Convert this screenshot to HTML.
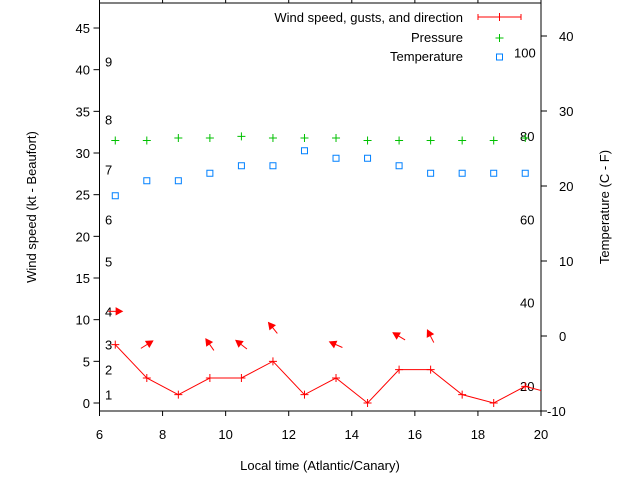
<!DOCTYPE html>
<html><head><meta charset="utf-8"><style>
body{margin:0;background:#fff}
svg{display:block;font-family:"Liberation Sans",sans-serif;font-size:13px}
</style></head><body>
<svg id="c" width="640" height="480">
<g id="plot"></g>
</svg>
<script>
const hours=[6.5,7.5,8.5,9.5,10.5,11.5,12.5,13.5,14.5,15.5,16.5,17.5,18.5,19.5,20.5];
const wind=[7,3,1,3,3,5,1,3,0,4,4,1,0,2,1];
const pressure=[31.5,31.5,31.8,31.8,32,31.8,31.8,31.8,31.5,31.5,31.5,31.5,31.5,31.8];
const temperature=[18.7,20.7,20.7,21.7,22.7,22.7,24.7,23.7,23.7,22.7,21.7,21.7,21.7,21.7];
const gustHours=[6.5,7.5,9.5,10.5,11.5,13.5,15.5,16.5];
const gustSpeed=[11,7,7,7,9,7,8,8];
const gustDir=[0,32,125,142,129,156,149,117];
const xTicks=[6,8,10,12,14,16,18,20];
const yTicks=[0,5,10,15,20,25,30,35,40,45];
const tTicks=[-10,0,10,20,30,40];
const fLabels=[20,40,60,80,100];
const bfNums=[1,2,3,4,5,6,7,8,9];
const bfKt=[1,4,7,11,17,22,28,34,41];

const L=99.5,R=541,T=3,B=411;
const X=h=>L+(h-6)*(R-L)/14;
const Y=v=>403-v*8.333;
const TY=c=>336-c*7.5;
const NS='http://www.w3.org/2000/svg';
const g=document.getElementById('plot');
function el(tag,attrs,name,text){const e=document.createElementNS(NS,tag);for(const k in attrs)e.setAttribute(k,attrs[k]);


if(text!==undefined)e.textContent=text;g.appendChild(e);return e;}

const defs=document.createElementNS(NS,'defs');defs.innerHTML='<clipPath id="cp"><rect x="99.5" y="3" width="441.5" height="408"/></clipPath>';g.appendChild(defs);

xTicks.forEach(t=>{el('line',{x1:X(t),x2:X(t),y1:B,y2:B+5,stroke:'#000'},'x-tick');
el('line',{x1:X(t),x2:X(t),y1:T,y2:T-5,stroke:'#000'},'x-tick-top');
el('text',{x:X(t),y:439,'text-anchor':'middle'},'x-tick-label',t);});
yTicks.forEach(t=>{el('line',{x1:L-6,x2:L,y1:Y(t),y2:Y(t),stroke:'#000'},'y-tick');
el('text',{x:90,y:Y(t)+5,'text-anchor':'end'},'y-tick-label',t);});
tTicks.forEach(t=>{el('line',{x1:R,x2:R+6,y1:TY(t),y2:TY(t),stroke:'#000'},'temp-tick');
el('text',{x:t<0?547:559,y:TY(t)+5},'temp-tick-label',t);});
fLabels.forEach(f=>{const c=(f-32)*5/9;el('text',{x:f>=100?514:520,y:TY(c)+5},'fahrenheit-label',f);});
bfNums.forEach((n,i)=>el('text',{x:105,y:Y(bfKt[i])+5},'beaufort-label',n));

el('rect',{x:L,y:T,width:R-L,height:B-T,fill:'none',stroke:'#000'},'plot-frame');

el('polyline',{points:hours.map((h,i)=>X(h)+','+Y(wind[i])).join(' '),fill:'none',stroke:'#f00','clip-path':'url(#cp)'},'wind-line');
hours.forEach((h,i)=>{if(h>20)return;el('path',{d:`M${X(h)-4},${Y(wind[i])}h8M${X(h)},${Y(wind[i])-4}v8`,stroke:'#f00'},'wind-point');});
gustHours.forEach((h,i)=>{const cx=X(h),cy=Y(gustSpeed[i]),a=gustDir[i]*Math.PI/180,l=7;
const dx=Math.cos(a)*l,dy=-Math.sin(a)*l;const hx=cx+dx,hy=cy+dy;
const ang=Math.atan2(dy,dx);const p1=[hx-7*Math.cos(ang-0.5),hy-7*Math.sin(ang-0.5)],p2=[hx-7*Math.cos(ang+0.5),hy-7*Math.sin(ang+0.5)];
el('line',{x1:cx-dx,y1:cy-dy,x2:hx,y2:hy,stroke:'#f00'},'gust-arrow');
el('polygon',{points:`${hx},${hy} ${p1} ${p2}`,fill:'#f00',stroke:'#f00'},'gust-arrow-head');});
pressure.forEach((p,i)=>el('path',{d:`M${X(hours[i])-4},${Y(p)}h8M${X(hours[i])},${Y(p)-4}v8`,stroke:'#00c000'},'pressure-point'));
temperature.forEach((t,i)=>el('rect',{x:X(hours[i])-3,y:TY(t)-3,width:6,height:6,fill:'none',stroke:'#0080ff'},'temperature-point'));

el('text',{x:463,y:22,'text-anchor':'end'},'legend-wind-label','Wind speed, gusts, and direction');
el('path',{d:'M478,17H521M478,14v6M521,14v6M499.5,13v8',stroke:'#f00'},'legend-wind-sample');
el('text',{x:463,y:42,'text-anchor':'end'},'legend-pressure-label','Pressure');
el('path',{d:'M495.5,38h8M499.5,34v8',stroke:'#00c000'},'legend-pressure-sample');
el('text',{x:463,y:61,'text-anchor':'end'},'legend-temperature-label','Temperature');
el('rect',{x:496.5,y:54,width:6,height:6,fill:'none',stroke:'#0080ff'},'legend-temperature-sample');

el('text',{x:320,y:470,'text-anchor':'middle'},'x-axis-title','Local time (Atlantic/Canary)');
el('text',{x:0,y:0,'text-anchor':'middle',transform:'translate(36,207) rotate(-90)'},'y-axis-title','Wind speed (kt - Beaufort)');
el('text',{x:0,y:0,'text-anchor':'middle',transform:'translate(609,207) rotate(-90)'},'temperature-axis-title','Temperature (C - F)');
</script>
</body></html>
